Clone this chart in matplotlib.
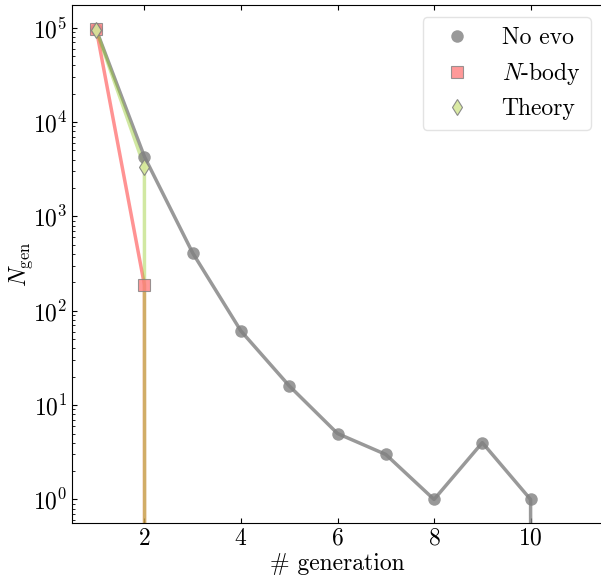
import numpy as np
import matplotlib
matplotlib.use("Agg")
import matplotlib.pyplot as plt

plt.rcParams['font.family'] = 'serif'
plt.rcParams['font.serif'] = ['cmr10']
plt.rcParams['mathtext.fontset'] = 'cm'
plt.rcParams['axes.formatter.use_mathtext'] = True
plt.rcParams['axes.unicode_minus'] = False

generation = [1, 2, 3, 4, 5, 6, 7, 8, 9, 10, 11]
no_evo = [96000, 4300, 410, 61, 16, 5, 3, 1, 4, 1, 0]
nbody = [98000, 188, 0, 0, 0, 0, 0, 0, 0, 0, 0]
theory = [95000, 3350, 0, 0, 0, 0, 0, 0, 0, 0, 0]

labels = ['No evo', r'$N$-body', 'Theory']

fig = plt.figure(figsize=(6.01, 5.79), dpi=100)
ax = fig.add_axes([72/601, 1-523/579, 531/601, 518/579])
ax.set_yscale('log', nonpositive='clip')

c_gray = 'gray'
c_red = '#ff6666'
c_green = 'yellowgreen'

ax.plot(generation, no_evo, color=c_gray, alpha=0.8, lw=2.5, zorder=2)
ax.plot(generation, nbody, color=c_red, alpha=0.7, lw=2.5, zorder=2)
ax.plot(generation, theory, color=c_green, alpha=0.45, lw=2.5, zorder=2)

ax.plot(generation, no_evo, ls='none', marker='o', ms=9, color=c_gray,
        mec='none', alpha=0.8, label=labels[0], zorder=3)
ax.plot(generation, nbody, ls='none', marker='s', ms=8, color='#ff8080',
        mec='gray', mew=0.8, alpha=0.8, label=labels[1], zorder=3)
ax.plot(generation, theory, ls='none', marker='d', ms=8, color='#d6e89a',
        mec='gray', mew=0.8, alpha=0.9, label=labels[2], zorder=3)

ax.set_xlim(0.5, 11.5)
ax.set_xticks([2, 4, 6, 8, 10])
ax.tick_params(which='both', direction='in', top=True, right=False, labelsize=17)
ax.tick_params(axis='x', which='minor', bottom=False, top=False)
ax.spines['right'].set_visible(False)
ax.set_xlabel('# generation', fontsize=17, labelpad=2)
ax.set_ylabel(r'$N_{\rm gen}$', fontsize=17, labelpad=-1.5)

leg = ax.legend(loc='upper right', fontsize=17, frameon=True, borderpad=0.44,
                handletextpad=0.9, labelspacing=0.45, borderaxespad=0,
                bbox_to_anchor=(0.977, 0.977))
leg.get_frame().set_edgecolor('#dddddd')

fig.savefig('out.png', dpi=100)
